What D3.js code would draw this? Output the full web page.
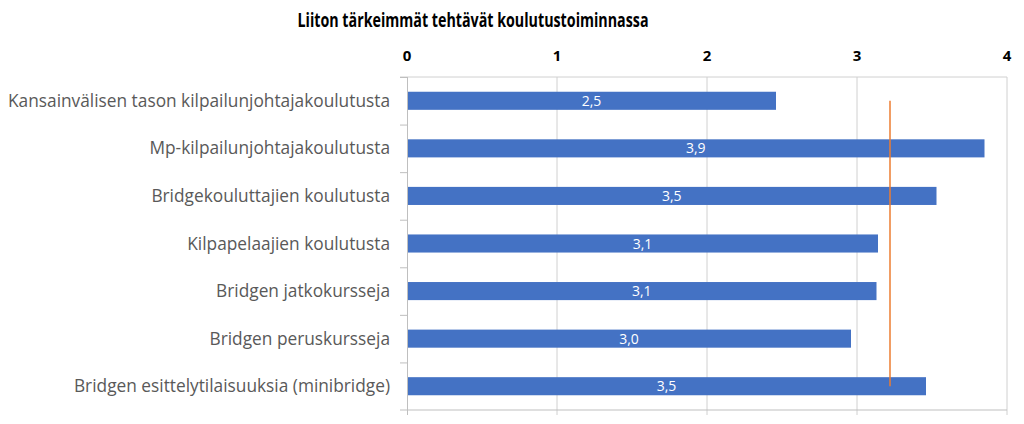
<!DOCTYPE html>
<html><head><meta charset="utf-8">
<script src="https://cdn.jsdelivr.net/npm/d3@7"></script>
<style>body{margin:0;background:#fff}svg{display:block}</style>
</head><body><svg id="c" width="1024" height="424"></svg>
<script>
const categories = ["Kansainvälisen tason kilpailunjohtajakoulutusta","Mp-kilpailunjohtajakoulutusta","Bridgekouluttajien koulutusta","Kilpapelaajien koulutusta","Bridgen jatkokursseja","Bridgen peruskursseja","Bridgen esittelytilaisuuksia (minibridge)"];
const values = [2.46, 3.85, 3.53, 3.14, 3.13, 2.96, 3.46];
const labels = ["2,5","3,9","3,5","3,1","3,1","3,0","3,5"];
const average = 3.22;
const ticks = [0,1,2,3,4];
const title = "Liiton tärkeimmät tehtävät koulutustoiminnassa";

const svg = d3.select("#c");
const font = "'Open Sans', 'Noto Sans', sans-serif";
const x = d3.scaleLinear().domain([0,4]).range([407,1007]);
const y = d3.scaleBand().domain(categories).range([77,410]).paddingInner(0.62).paddingOuter(0.31);
const yb = d3.scaleBand().domain(categories).range([77,410]);

svg.append("g").selectAll("line").data(ticks.slice(1)).join("line")
  .attr("x1",d=>x(d)).attr("x2",d=>x(d)).attr("y1",77).attr("y2",415)
  .attr("stroke","#d0d0d0").attr("stroke-width",1);
svg.append("line").attr("x1",400).attr("x2",1007).attr("y1",77).attr("y2",77).attr("stroke","#d0d0d0");
svg.append("line").attr("x1",400).attr("x2",1007).attr("y1",410).attr("y2",410).attr("stroke","#bfbfbf");
svg.append("line").attr("x1",407.5).attr("x2",407.5).attr("y1",77).attr("y2",415).attr("stroke","#bfbfbf");
svg.append("g").selectAll("line").data(categories).join("line")
  .attr("x1",400).attr("x2",407).attr("y1",d=>yb(d)+0.5).attr("y2",d=>yb(d)+0.5).attr("stroke","#bfbfbf");

svg.append("g").selectAll("text").data(ticks).join("text")
  .attr("x",d=>x(d)).attr("y",61).attr("text-anchor","middle")
  .attr("font-family",font).attr("font-weight","bold").attr("font-size",15).attr("fill","#000")
  .text(d=>d);

svg.append("g").selectAll("rect").data(values).join("rect")
  .attr("x",x(0)+1).attr("y",(d,i)=>y(categories[i]))
  .attr("width",d=>x(d)-x(0)-1).attr("height",y.bandwidth())
  .attr("fill","#4472C4");

svg.append("g").selectAll("text").data(values).join("text")
  .attr("x",d=>(x(0)+x(d))/2).attr("y",(d,i)=>y(categories[i])+y.bandwidth()/2+5)
  .attr("text-anchor","middle").attr("font-family",font).attr("font-size",14).attr("fill","#fff")
  .text((d,i)=>labels[i]);

svg.append("line").attr("x1",x(average)).attr("x2",x(average))
  .attr("y1",yb(categories[0])+yb.bandwidth()/2).attr("y2",yb(categories[6])+yb.bandwidth()/2)
  .attr("stroke","#ED7D31").attr("stroke-width",1.5);

const cl = svg.append("g").selectAll("text").data(categories).join("text")
  .attr("x",390).attr("y",d=>yb(d)+yb.bandwidth()/2+6).attr("text-anchor","end")
  .attr("font-family",font).attr("font-size",17.5).attr("font-weight",500).attr("fill","#595959")
  .text(d=>d);
const widths = cl.nodes().map(n=>n.getComputedTextLength());
const f = 382/widths[0];
cl.attr("textLength",(d,i)=>widths[i]*f).attr("lengthAdjust","spacingAndGlyphs");

const t = svg.append("text").attr("x",473).attr("y",27).attr("text-anchor","middle")
  .attr("font-family",font).attr("font-weight","bold").attr("font-size",19).attr("fill","#000").text(title);
t.attr("textLength",351).attr("lengthAdjust","spacingAndGlyphs");
</script></body></html>
